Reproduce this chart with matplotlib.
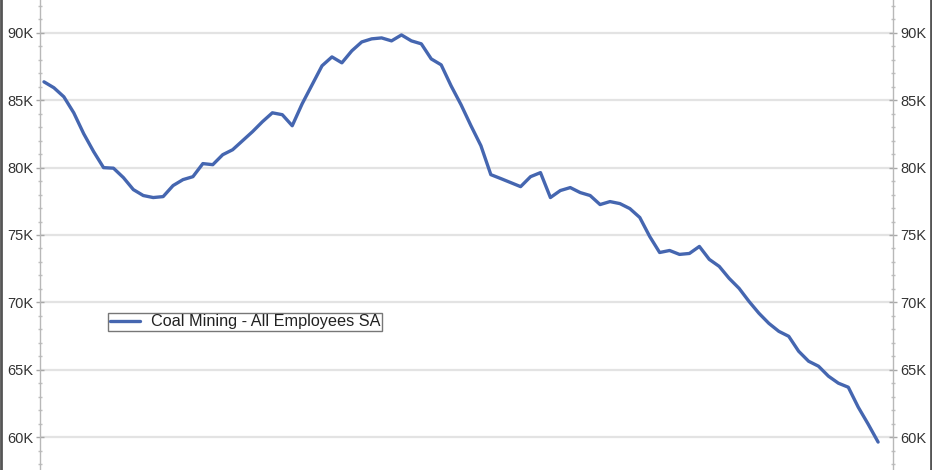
import matplotlib
matplotlib.use("Agg")
import matplotlib.pyplot as plt
from matplotlib.ticker import MultipleLocator, FuncFormatter
from matplotlib.lines import Line2D

plt.rcParams['font.family'] = ['Liberation Sans', 'DejaVu Sans']

# Monthly index (85 months)
employees = [
    86370, 85930, 85260, 84070, 82520, 81190, 80000, 79960, 79260, 78370,
    77930, 77780, 77850, 78670, 79110, 79330, 80300, 80220, 80960, 81330,
    82000, 82670, 83410, 84070, 83930, 83110, 84740, 86150, 87560, 88220,
    87780, 88670, 89330, 89560, 89630, 89410, 89850, 89410, 89190, 88070,
    87630, 86070, 84670, 83110, 81630, 79480, 79190, 78890, 78590, 79330,
    79630, 77780, 78300, 78520, 78150, 77930, 77260, 77480, 77330, 76960,
    76300, 74890, 73700, 73850, 73560, 73630, 74150, 73190, 72670, 71780,
    71040, 70070, 69190, 68440, 67850, 67480, 66370, 65630, 65260, 64520,
    64000, 63700, 62220, 60960, 59630,
]
months = list(range(len(employees)))
series_label = "Coal Mining - All Employees SA"

fig = plt.figure(figsize=(9.32, 4.70), dpi=100)
fig.patch.set_facecolor('white')
ax = fig.add_axes([40/932, 0.0, (893-40)/932, 1.0])

ax.plot(months, employees, color='#4566b0', lw=2.4, solid_capstyle='round',
        solid_joinstyle='round', label=series_label)

ax.set_xlim(-0.4, 85.5)
ax.set_ylim(57556, 92444)

ax.yaxis.set_major_locator(MultipleLocator(5000))
ax.yaxis.set_minor_locator(MultipleLocator(1000))
ax.yaxis.set_major_formatter(FuncFormatter(lambda v, p: f"{int(round(v/1000))}K"))
ax.set_xticks([])

ax.grid(axis='y', which='major', color='#e3e3e3', lw=1.6)
ax.set_axisbelow(True)

for s in ['top', 'bottom']:
    ax.spines[s].set_visible(False)
for s in ['left', 'right']:
    ax.spines[s].set_color('#b8b8b8')
    ax.spines[s].set_linewidth(1.0)

ax.tick_params(axis='y', which='major', direction='inout', length=6, width=1,
               color='#a8a8a8', labelsize=10.5, labelcolor='#333333',
               left=True, right=True, labelleft=True, labelright=True, pad=2)
ax.tick_params(axis='y', which='minor', direction='inout', length=3.5, width=1,
               color='#c0c0c0', left=True, right=True)

leg = ax.legend(loc='lower left', bbox_to_anchor=(0.0797, 0.296), frameon=True,
                fancybox=False, fontsize=11.7, handlelength=1.85, borderpad=0.1,
                handletextpad=0.7, borderaxespad=0)
leg.get_frame().set_edgecolor('#555555')
leg.get_frame().set_linewidth(1.0)
for t in leg.get_texts():
    t.set_color('#222222')

# outer border lines at figure edges
fig.add_artist(Line2D([0.001, 0.001], [0, 1], transform=fig.transFigure,
                      color='#555555', lw=2))
fig.add_artist(Line2D([0.999, 0.999], [0, 1], transform=fig.transFigure,
                      color='#555555', lw=2))

fig.savefig('out.png', dpi=100)
